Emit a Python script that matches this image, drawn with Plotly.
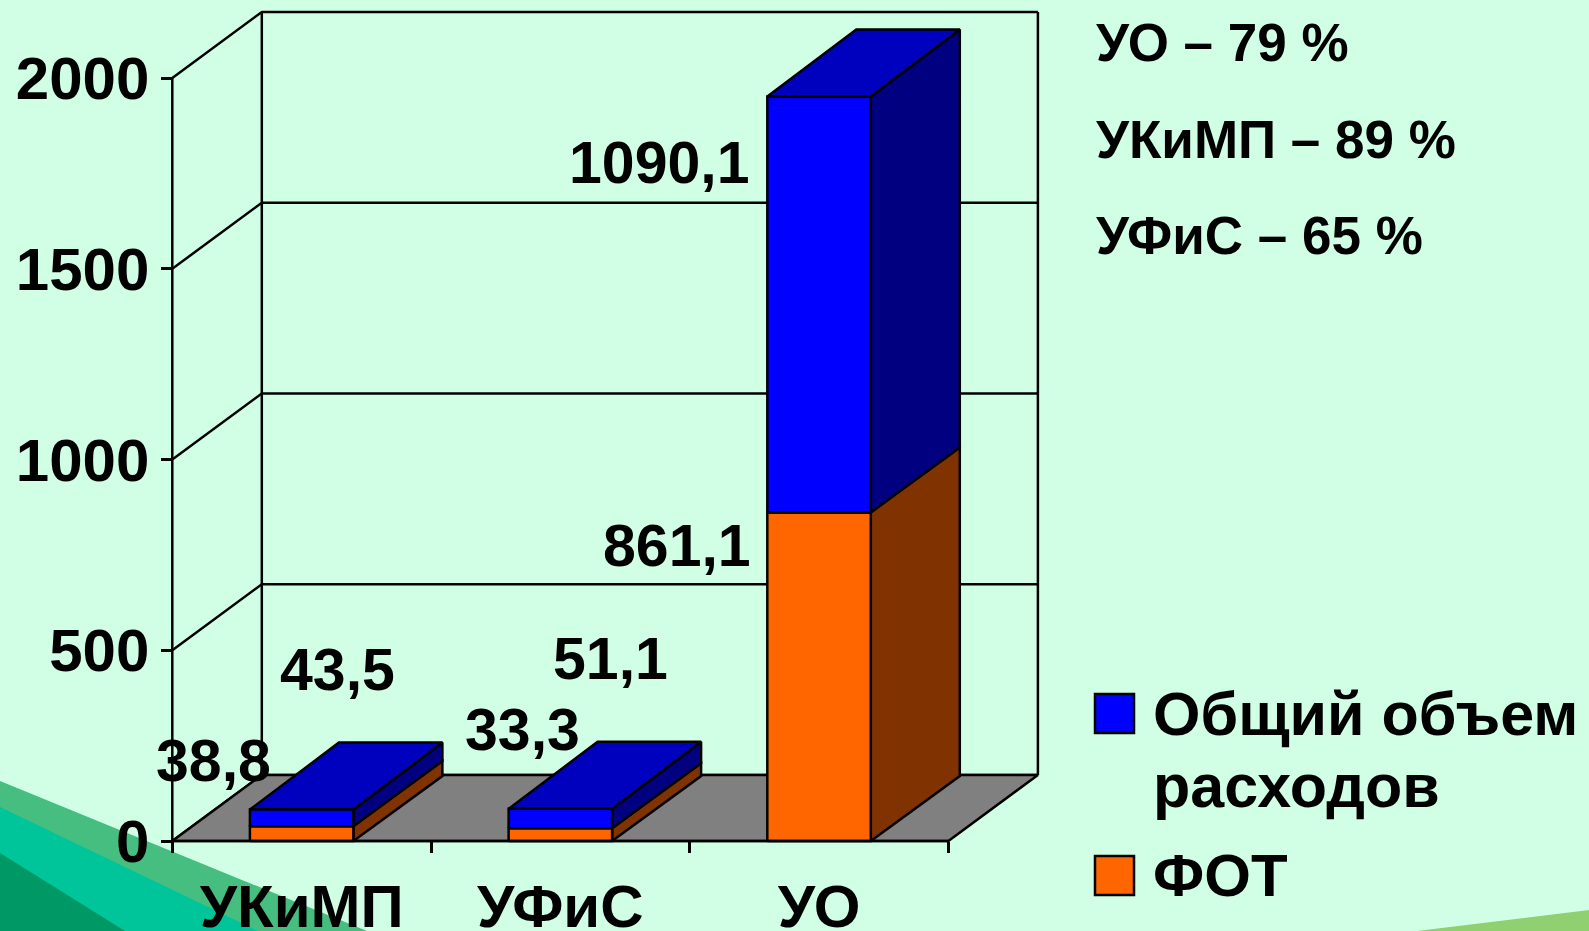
import plotly.graph_objects as go

categories = ["УКиМП", "УФиС", "УО"]
fot = [38.8, 33.3, 861.1]
total_extra = [43.5, 51.1, 1090.1]
y_ticks = [0, 500, 1000, 1500, 2000]
series_names = ["Общий объем расходов", "ФОТ"]
notes = ["УО – 79 %", "УКиМП – 89 %", "УФиС – 65 %"]

W, H = 1589, 931
X0_PX, Y0_PX = 172.3, 841.0
PX_PER_CAT, PX_PER_VAL = 258.7, 0.3815
FONT = "Liberation Sans"
BG = "#D1FFE6"
WALL_DX, WALL_DY = 89.5 / PX_PER_CAT, 66.0 / PX_PER_VAL
BAR_DX, BAR_DY = 89.0 / PX_PER_CAT, 67.0 / PX_PER_VAL
BAR_W = 0.40
LW = 2.5
BLACK = "#000000"


def poly(xs, ys, fill=None):
    return go.Scatter(
        x=xs, y=ys, mode="lines", hoverinfo="skip", showlegend=False,
        line=dict(color=BLACK, width=LW),
        fill="toself" if fill else None, fillcolor=fill,
    )


fig = go.Figure()

# back wall and grid
n = len(categories)
for v in y_ticks:
    fig.add_trace(poly([0, WALL_DX, n + WALL_DX], [v, v + WALL_DY, v + WALL_DY]))
fig.add_trace(poly([WALL_DX, WALL_DX], [WALL_DY, y_ticks[-1] + WALL_DY]))
fig.add_trace(poly([n + WALL_DX, n + WALL_DX], [WALL_DY, y_ticks[-1] + WALL_DY]))
fig.add_trace(poly([0, 0], [0, y_ticks[-1]]))
# floor
fig.add_trace(poly([0, n, n + WALL_DX, WALL_DX, 0], [0, 0, WALL_DY, WALL_DY, 0], "#808080"))


def box(i, lo, hi, front, side, top=None):
    l, r = i + 0.5 - BAR_W / 2, i + 0.5 + BAR_W / 2
    fig.add_trace(poly([r, r + BAR_DX, r + BAR_DX, r, r],
                       [lo, lo + BAR_DY * 0.97, hi + BAR_DY, hi, lo], side))
    if top:
        fig.add_trace(poly([l, r, r + BAR_DX, l + BAR_DX, l],
                           [hi, hi, hi + BAR_DY, hi + BAR_DY, hi], top))
    fig.add_trace(poly([l, r, r, l, l], [lo, lo, hi, hi, lo], front))


for i in range(n):
    box(i, 0, fot[i], "#FF6600", "#803300")
    box(i, fot[i], fot[i] + total_extra[i], "#0000FF", "#000080", "#0000BF")

fig.add_trace(poly([0, n], [0, 0]))


def px(x):
    return x / W


def py(y):
    return 1 - y / H


anns = []


def label(text, x, y, size, anchor="center"):
    anns.append(dict(text=text, x=px(x), y=py(y), xref="paper", yref="paper",
                     xanchor=anchor, yanchor="middle", showarrow=False,
                     font=dict(family=FONT, size=size, color=BLACK), align="left"))


def fmt(v):
    return f"{v}".replace(".", ",")


fot_pos = [(213, 761), (522, 730), (677, 546)]
tot_pos = [(337, 670), (610, 659), (659, 163)]
for i in range(n):
    label(f"<b>{fmt(fot[i])}</b>", *fot_pos[i], 59)
    label(f"<b>{fmt(total_extra[i])}</b>", *tot_pos[i], 59)
for t, yy in zip(notes, [43, 139, 235]):
    label(f"<b>{t}</b>", 1094, yy, 53, "left")
first, second = series_names[0].rsplit(" ", 1)
label(f"<b>{first}</b>", 1151, 714, 61, "left")
label(f"<b>{second}</b>", 1151, 786, 61, "left")
label(f"<b>{series_names[1]}</b>", 1151, 875, 60, "left")


def ppath(pts):
    return "M" + "L".join(f"{px(a):.5f},{py(b):.5f}" for a, b in pts) + "Z"


shapes = [
    dict(type="path", xref="paper", yref="paper", layer="below", line=dict(width=0),
         fillcolor="#46BE80", path=ppath([(0, 781), (367, 931), (0, 931)])),
    dict(type="path", xref="paper", yref="paper", layer="below", line=dict(width=0),
         fillcolor="#00C49A", path=ppath([(0, 807), (258, 931), (0, 931)])),
    dict(type="path", xref="paper", yref="paper", layer="below", line=dict(width=0),
         fillcolor="#009966", path=ppath([(0, 853), (125, 931), (0, 931)])),
    dict(type="path", xref="paper", yref="paper", layer="below", line=dict(width=0),
         fillcolor="#90D070", path=ppath([(1417, 931), (1589, 910), (1589, 931)])),
]
for color, (a, b) in zip(["#0000FF", "#FF6600"], [(694, 733), (856, 895)]):
    shapes.append(dict(type="rect", xref="paper", yref="paper", layer="above",
                       x0=px(1095), x1=px(1134), y0=py(b), y1=py(a),
                       fillcolor=color, line=dict(color=BLACK, width=LW)))

fig.update_layout(
    width=W, height=H, margin=dict(l=0, r=0, t=0, b=0, autoexpand=False),
    paper_bgcolor=BG, plot_bgcolor="rgba(0,0,0,0)", showlegend=False,
    shapes=shapes, annotations=anns,
    font=dict(family=FONT, color=BLACK),
    xaxis=dict(
        range=[-X0_PX / PX_PER_CAT, (W - X0_PX) / PX_PER_CAT],
        domain=[0, 1], anchor="free", position=(H - Y0_PX) / H,
        showgrid=False, zeroline=False, showline=False,
        tickmode="array", tickvals=[i + 0.5 for i in range(n)],
        ticktext=[f"<b>{c}</b>" for c in categories],
        ticks="", tickfont=dict(family=FONT, size=60, color=BLACK),
        minor=dict(tickmode="array", tickvals=list(range(n + 1)), ticks="outside",
                   ticklen=11, tickwidth=LW, tickcolor=BLACK, showgrid=False),
        ticklabelstandoff=25, automargin=False,
    ),
    yaxis=dict(
        range=[-(H - Y0_PX) / PX_PER_VAL, Y0_PX / PX_PER_VAL],
        domain=[0, 1], anchor="free", position=X0_PX / W,
        showgrid=False, zeroline=False, showline=False,
        tickmode="array", tickvals=y_ticks,
        ticktext=[f"<b>{v}</b>" for v in y_ticks],
        ticks="outside", ticklen=11, tickwidth=LW, tickcolor=BLACK,
        tickfont=dict(family=FONT, size=60, color=BLACK),
        automargin=False,
    ),
)

fig.write_html("out.html", config=dict(displayModeBar=False),
               post_script='document.body.style.margin="0";document.body.style.background="%s";' % BG)
